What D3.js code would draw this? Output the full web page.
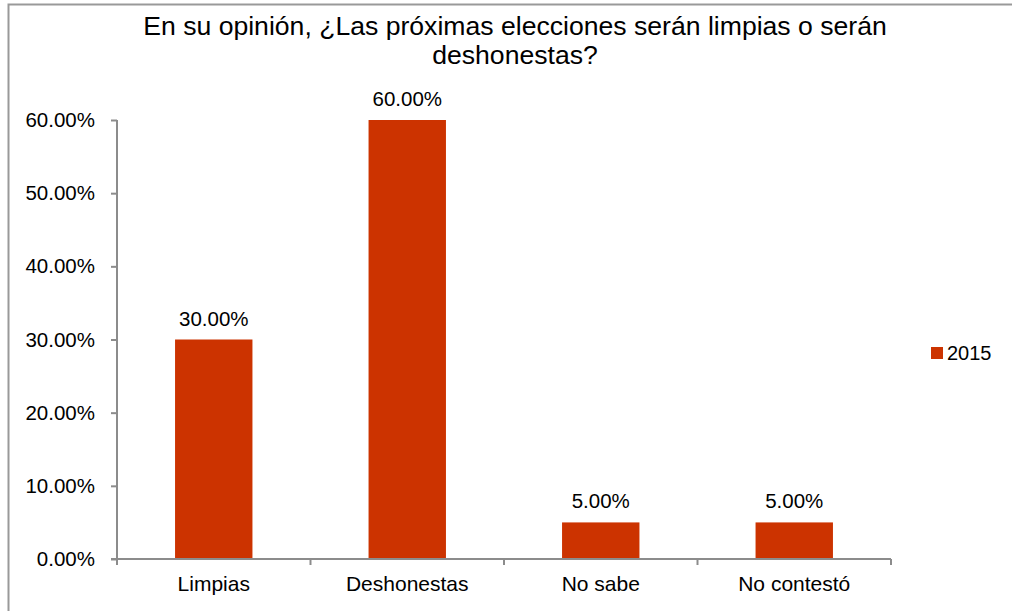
<!DOCTYPE html>
<html>
<head>
<meta charset="utf-8">
<script src="https://cdn.jsdelivr.net/npm/d3@7"></script>
<style>
  html, body { margin: 0; padding: 0; background: #fff; }
  svg { display: block; font-family: "Liberation Sans", Arial, sans-serif; }
</style>
</head>
<body>
<svg id="chart" width="1012" height="611"></svg>
<script>
// Survey responses, year 2015
const categories = ["Limpias", "Deshonestas", "No sabe", "No contestó"];
const values2015 = [0.30, 0.60, 0.05, 0.05];
const yTicks = [0, 0.1, 0.2, 0.3, 0.4, 0.5, 0.6];
const seriesName = "2015";
const titleLines = ["En su opinión, ¿Las próximas elecciones serán limpias o serán", "deshonestas?"];

const svg = d3.select("#chart");
const barColor = "#cc3300";
const axisColor = "#8c8c8c";
const labelSize = 20.5;

// outer frame
svg.append("rect")
  .attr("x", 8.5).attr("y", 4.5)
  .attr("width", 1100).attr("height", 700)
  .attr("fill", "none").attr("stroke", "#999").attr("stroke-width", 2);

const plot = { left: 117, right: 891, top: 120, bottom: 559 };

const x = d3.scaleBand().domain(categories)
  .range([plot.left, plot.right]).paddingInner(0.6).paddingOuter(0.3);
const y = d3.scaleLinear().domain([0, 0.6]).range([plot.bottom, plot.top]);

const fmt = d3.format(".2%");

// title
svg.append("text")
  .attr("x", 515).attr("y", 35)
  .attr("text-anchor", "middle")
  .attr("font-size", 26.6)
  .attr("fill", "#000")
  .selectAll("tspan").data(titleLines).join("tspan")
  .attr("x", 515).attr("dy", (d, i) => i === 0 ? 0 : 29)
  .text(d => d);

// bars
svg.append("g").selectAll("rect").data(values2015).join("rect")
  .attr("x", (d, i) => x(categories[i]))
  .attr("width", x.bandwidth())
  .attr("y", d => y(d))
  .attr("height", d => y(0) - y(d))
  .attr("fill", barColor);

// value labels
svg.append("g").selectAll("text").data(values2015).join("text")
  .attr("x", (d, i) => x(categories[i]) + x.bandwidth() / 2)
  .attr("y", d => y(d) - 14)
  .attr("text-anchor", "middle")
  .attr("font-size", labelSize)
  .attr("fill", "#000")
  .text(d => fmt(d));

// y axis
const yAxis = svg.append("g")
  .attr("transform", `translate(${plot.left},0)`)
  .call(d3.axisLeft(y).tickValues(yTicks).tickFormat(fmt).tickSize(6).tickPadding(16));
yAxis.select(".domain").attr("stroke", axisColor).attr("stroke-width", 2)
  .attr("d", `M0,${plot.top}V${plot.bottom}`);
yAxis.selectAll(".tick line").attr("stroke", axisColor).attr("stroke-width", 2);
yAxis.selectAll(".tick text").attr("font-size", labelSize).attr("fill", "#000")
  .attr("font-family", "'Liberation Sans', Arial, sans-serif");

// x axis with tick marks at category boundaries
const xAxis = svg.append("g").attr("transform", `translate(0,${plot.bottom})`);
xAxis.append("line")
  .attr("x1", plot.left - 6).attr("x2", plot.right)
  .attr("stroke", axisColor).attr("stroke-width", 2);
const bounds = d3.range(categories.length + 1).map(i => plot.left + i * (plot.right - plot.left) / categories.length);
xAxis.selectAll("line.tk").data(bounds).join("line")
  .attr("class", "tk")
  .attr("x1", d => d).attr("x2", d => d)
  .attr("y1", 0).attr("y2", 6)
  .attr("stroke", axisColor).attr("stroke-width", 2);
xAxis.selectAll("text").data(categories).join("text")
  .attr("x", d => x(d) + x.bandwidth() / 2)
  .attr("y", 32)
  .attr("text-anchor", "middle")
  .attr("font-size", 21)
  .attr("fill", "#000")
  .text(d => d);

// legend
const legend = svg.append("g").attr("transform", "translate(931,347)");
legend.append("rect").attr("width", 12).attr("height", 12).attr("fill", barColor);
legend.append("text").attr("x", 16).attr("y", 13)
  .attr("font-size", 20).attr("fill", "#000").text(seriesName);
</script>
</body>
</html>
